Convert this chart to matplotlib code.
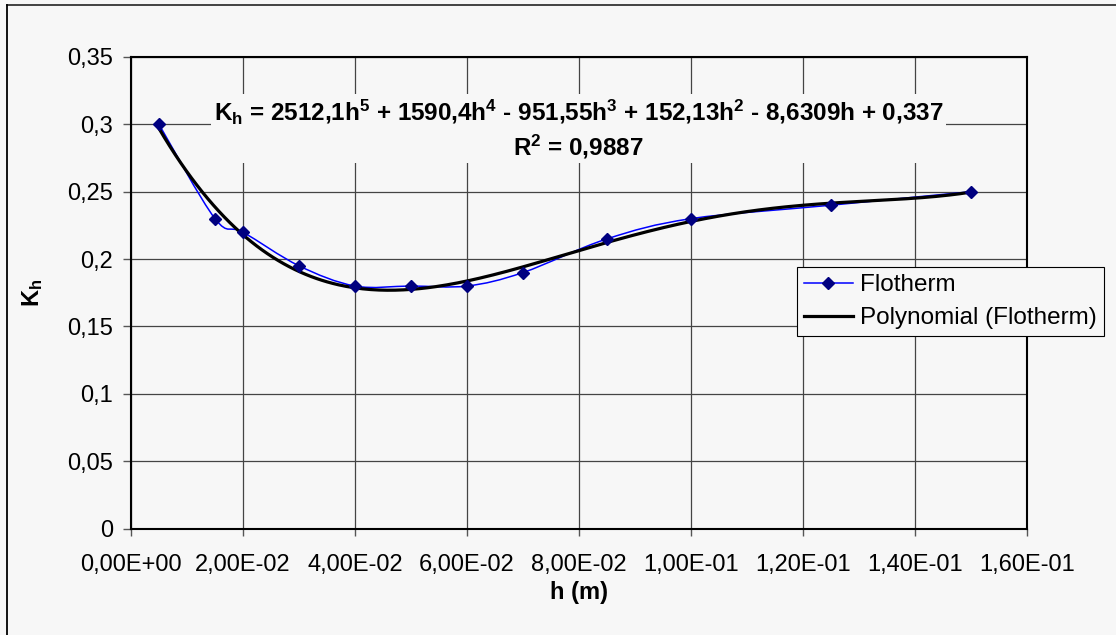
import numpy as np
import matplotlib
matplotlib.use("Agg")
import matplotlib.pyplot as plt
from matplotlib.path import Path
from matplotlib.patches import PathPatch
from matplotlib.lines import Line2D
from matplotlib.ticker import FuncFormatter, MultipleLocator

# ---- data ----
h_vals = [0.005, 0.015, 0.02, 0.03, 0.04, 0.05, 0.06, 0.07, 0.085, 0.1, 0.125, 0.15]
kh_vals = [0.30, 0.23, 0.22, 0.195, 0.18, 0.18, 0.18, 0.19, 0.215, 0.23, 0.24, 0.25]

series_label = "Flotherm"
trend_label = "Polynomial (Flotherm)"
eq_text = ("$K_h$ = 2512,1h$^5$ + 1590,4h$^4$ - 951,55h$^3$ + 152,13h$^2$"
           " - 8,6309h + 0,337\nR$^2$ = 0,9887")
x_label = "h (m)"
y_label = "$K_h$"

BG = "#f7f7f7"

plt.rcParams["font.family"] = ["Liberation Sans", "DejaVu Sans"]
plt.rcParams["mathtext.fontset"] = "custom"
plt.rcParams["mathtext.rm"] = "Liberation Sans:bold"
plt.rcParams["mathtext.it"] = "Liberation Sans:bold"
plt.rcParams["mathtext.bf"] = "Liberation Sans:bold"


# Excel-like smoothed line: cubic bezier segments through the points
def smooth_path(x, y, sx, sy, t=1/6):
    px = np.asarray(x) * sx
    py = np.asarray(y) * sy
    n = len(px)
    verts = [(px[0], py[0])]
    codes = [Path.MOVETO]
    for i in range(n - 1):
        i0 = max(i - 1, 0)
        i3 = min(i + 2, n - 1)
        c1 = (px[i] + (px[i + 1] - px[i0]) * t, py[i] + (py[i + 1] - py[i0]) * t)
        c2 = (px[i + 1] - (px[i3] - px[i]) * t, py[i + 1] - (py[i3] - py[i]) * t)
        verts += [c1, c2, (px[i + 1], py[i + 1])]
        codes += [Path.CURVE4] * 3
    verts = [(a / sx, b / sy) for a, b in verts]
    return Path(verts, codes)


fig = plt.figure(figsize=(11.16, 6.35), dpi=100, facecolor=BG)
ax = fig.add_axes([131 / 1116, 1 - 528.5 / 635, 896 / 1116, 471.5 / 635])
ax.set_facecolor(BG)

ax.set_xlim(0, 0.16)
ax.set_ylim(0, 0.35)
ax.xaxis.set_major_locator(MultipleLocator(0.02))
ax.yaxis.set_major_locator(MultipleLocator(0.05))
ax.xaxis.set_major_formatter(FuncFormatter(lambda v, p: f"{v:.2E}".replace(".", ",")))
ax.yaxis.set_major_formatter(FuncFormatter(lambda v, p: f"{v:g}".replace(".", ",")))

ax.grid(True, color="#444444", lw=0.9)
ax.set_axisbelow(True)
for s in ax.spines.values():
    s.set_linewidth(1.5)
    s.set_color("black")
ax.tick_params(axis="y", length=6, width=1, color="#555555", pad=7, labelsize=17)
ax.tick_params(axis="x", length=5, width=1, color="#555555", pad=13, labelsize=17)

# smoothed series line
sx = 896 / 0.16
sy = 471.5 / 0.35
ax.add_patch(PathPatch(smooth_path(h_vals, kh_vals, sx, sy), fill=False,
                       edgecolor="#0000ff", lw=1.1, zorder=3))

# polynomial trendline (order 5), fitted from the series
coef = np.polyfit(h_vals, kh_vals, 5)
hh = np.linspace(min(h_vals), max(h_vals), 300)
ax.plot(hh, np.polyval(coef, hh), color="black", lw=2.3, zorder=4)

ax.plot(h_vals, kh_vals, ls="none", marker="D", ms=6.5, color="#000080", zorder=5)

ax.text(0.0799, 0.3203, eq_text, ha="center", va="top", fontsize=17.5,
        fontweight="bold", linespacing=1.3, multialignment="center", zorder=6,
        bbox=dict(boxstyle="square,pad=0.1", facecolor=BG, edgecolor="none"))

ax.set_xlabel(x_label, fontsize=17, fontweight="bold")
ax.xaxis.set_label_coords(0.5, -0.112)
ax.set_ylabel(y_label, fontsize=17)
ax.yaxis.set_label_coords(-0.096, 0.5)

handles = [
    Line2D([], [], color="#0000ff", lw=1.1, marker="D", ms=6.5,
           markerfacecolor="#000080", markeredgecolor="#000080"),
    Line2D([], [], color="black", lw=2.3),
]
leg = ax.legend(handles, [series_label, trend_label], loc="upper left",
                bbox_to_anchor=(0.743, 0.555), borderaxespad=0, fontsize=17.5,
                frameon=True, fancybox=False, shadow=False, framealpha=1,
                facecolor=BG, edgecolor="black", handlelength=2.0,
                handletextpad=0.3, labelspacing=0.45, borderpad=0.3)
leg.get_frame().set_linewidth(0.8)

# outer chart border (only top and left edges visible)
fig.add_artist(Line2D([7 / 1116, 1], [1 - 5 / 635, 1 - 5 / 635],
                      transform=fig.transFigure, color="#333333", lw=1.3))
fig.add_artist(Line2D([7 / 1116, 7 / 1116], [0, 1 - 5 / 635],
                      transform=fig.transFigure, color="black", lw=1.3))

fig.savefig("out.png", dpi=100, facecolor=BG)
